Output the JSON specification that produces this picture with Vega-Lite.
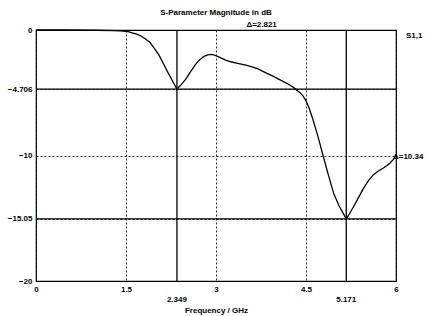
{
  "$schema": "https://vega.github.io/schema/vega-lite/v6.json",
  "width": 360,
  "height": 251,
  "autosize": {"type": "none"},
  "padding": {"left": 36, "top": 30, "right": 36, "bottom": 35},
  "background": "white",
  "config": {
    "view": {"stroke": "black", "strokeWidth": 1.2},
    "font": "Liberation Sans",
    "axis": {"labelFont": "Liberation Sans", "labelFontWeight": "bold", "labelFontSize": 8, "labelColor": "black", "titleColor": "black", "domain": false, "ticks": false, "gridColor": "black", "gridDash": [2, 2], "gridOpacity": 0.8, "gridWidth": 1}
  },
  "title": {"text": "S-Parameter Magnitude in dB", "fontSize": 8, "fontWeight": "bold", "font": "Liberation Sans", "color": "black", "anchor": "middle", "offset": 4},
  "layer": [
    {
      "data": {"values": [
        {"f": 0, "db": 0}, {"f": 0.5, "db": 0}, {"f": 1.0, "db": -0.02}, {"f": 1.3, "db": -0.05},
        {"f": 1.4, "db": -0.07}, {"f": 1.5, "db": -0.1}, {"f": 1.55, "db": -0.15}, {"f": 1.6, "db": -0.22},
        {"f": 1.68, "db": -0.33}, {"f": 1.75, "db": -0.48}, {"f": 1.82, "db": -0.7}, {"f": 1.9, "db": -1.0},
        {"f": 1.97, "db": -1.45}, {"f": 2.05, "db": -2.0}, {"f": 2.12, "db": -2.65}, {"f": 2.2, "db": -3.4},
        {"f": 2.28, "db": -4.1}, {"f": 2.349, "db": -4.706}, {"f": 2.42, "db": -4.35}, {"f": 2.5, "db": -3.9},
        {"f": 2.58, "db": -3.3}, {"f": 2.65, "db": -2.8}, {"f": 2.72, "db": -2.4}, {"f": 2.8, "db": -2.1},
        {"f": 2.86, "db": -1.98}, {"f": 2.93, "db": -1.95}, {"f": 3.0, "db": -2.05}, {"f": 3.07, "db": -2.2},
        {"f": 3.15, "db": -2.38}, {"f": 3.26, "db": -2.55}, {"f": 3.38, "db": -2.68}, {"f": 3.5, "db": -2.8},
        {"f": 3.6, "db": -2.93}, {"f": 3.7, "db": -3.1}, {"f": 3.85, "db": -3.45}, {"f": 3.95, "db": -3.68},
        {"f": 4.1, "db": -4.05}, {"f": 4.2, "db": -4.3}, {"f": 4.3, "db": -4.6}, {"f": 4.4, "db": -5.0},
        {"f": 4.45, "db": -5.25}, {"f": 4.5, "db": -5.65}, {"f": 4.55, "db": -6.2}, {"f": 4.62, "db": -7.2},
        {"f": 4.7, "db": -8.5}, {"f": 4.79, "db": -10.1}, {"f": 4.87, "db": -11.5}, {"f": 4.96, "db": -13.0},
        {"f": 5.05, "db": -14.0}, {"f": 5.171, "db": -15.05}, {"f": 5.23, "db": -14.6}, {"f": 5.29, "db": -14.1},
        {"f": 5.37, "db": -13.4}, {"f": 5.46, "db": -12.6}, {"f": 5.54, "db": -12.0}, {"f": 5.62, "db": -11.55},
        {"f": 5.7, "db": -11.25}, {"f": 5.79, "db": -11.0}, {"f": 5.85, "db": -10.8}, {"f": 5.9, "db": -10.6},
        {"f": 5.95, "db": -10.35}, {"f": 6.0, "db": -10.0}
      ]},
      "mark": {"type": "line", "color": "black", "strokeWidth": 1.3},
      "encoding": {
        "x": {"field": "f", "type": "quantitative", "scale": {"domain": [0, 6], "nice": false}, "axis": {"values": [0, 1.5, 3, 4.5, 6], "format": ".4~g", "title": "Frequency / GHz", "titleFontSize": 8, "titleFontWeight": "bold", "titlePadding": 13, "labelPadding": 4, "labelFlush": false}},
        "y": {"field": "db", "type": "quantitative", "scale": {"domain": [-20, 0], "nice": false}, "axis": {"values": [0, -4.706, -10, -15.05, -20], "format": ".4~g", "title": null, "labelPadding": 4, "labelFlush": false}}
      }
    },
    {
      "data": {"values": [{"v": -4.706}, {"v": -15.05}]},
      "mark": {"type": "rule", "color": "black", "strokeWidth": 1.3},
      "encoding": {"y": {"field": "v", "type": "quantitative"}}
    },
    {
      "data": {"values": [{"v": 2.349}, {"v": 5.171}]},
      "mark": {"type": "rule", "color": "black", "strokeWidth": 1.3},
      "encoding": {"x": {"field": "v", "type": "quantitative"}}
    },
    {
      "data": {"values": [{"v": 2.349, "y": -20, "t": "2.349"}, {"v": 5.171, "y": -20, "t": "5.171"}]},
      "mark": {"type": "text", "fontSize": 8, "fontWeight": "bold", "color": "black", "baseline": "top", "dy": 15},
      "encoding": {"x": {"field": "v", "type": "quantitative"}, "y": {"field": "y", "type": "quantitative"}, "text": {"field": "t"}}
    },
    {
      "data": {"values": [{"v": 3.76, "y": 0, "t": "Δ=2.821"}]},
      "mark": {"type": "text", "fontSize": 8, "fontWeight": "bold", "color": "black", "baseline": "bottom", "dy": -1},
      "encoding": {"x": {"field": "v", "type": "quantitative"}, "y": {"field": "y", "type": "quantitative"}, "text": {"field": "t"}}
    },
    {
      "data": {"values": [{"v": 6, "y": -10.1, "t": "Δ=10.34"}]},
      "mark": {"type": "text", "fontSize": 8, "fontWeight": "bold", "color": "black", "align": "left", "baseline": "middle", "dx": -3},
      "encoding": {"x": {"field": "v", "type": "quantitative"}, "y": {"field": "y", "type": "quantitative"}, "text": {"field": "t"}}
    },
    {
      "data": {"values": [{"v": 6, "y": 0, "t": "S1,1"}]},
      "mark": {"type": "text", "fontSize": 8, "fontWeight": "bold", "color": "black", "align": "left", "baseline": "middle", "dx": 10, "dy": 6},
      "encoding": {"x": {"field": "v", "type": "quantitative"}, "y": {"field": "y", "type": "quantitative"}, "text": {"field": "t"}}
    }
  ]
}
